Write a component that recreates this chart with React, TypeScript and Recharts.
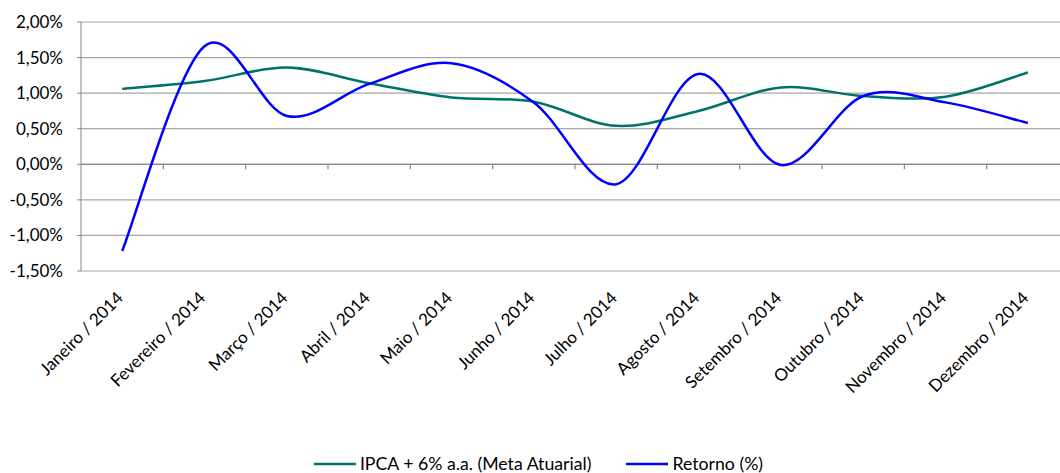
import { LineChart, Line, XAxis, YAxis, CartesianGrid, Legend, ReferenceLine } from 'recharts';

const MONTHS = [
  'Janeiro / 2014', 'Fevereiro / 2014', 'Março / 2014', 'Abril / 2014', 'Maio / 2014', 'Junho / 2014',
  'Julho / 2014', 'Agosto / 2014', 'Setembro / 2014', 'Outubro / 2014', 'Novembro / 2014', 'Dezembro / 2014',
];
const IPCA_META = [1.06, 1.17, 1.36, 1.14, 0.94, 0.88, 0.54, 0.75, 1.08, 0.96, 0.95, 1.29];
const RETORNO = [-1.22, 1.66, 0.68, 1.13, 1.42, 0.87, -0.28, 1.27, -0.01, 0.96, 0.87, 0.58];
const Y_TICKS = [-1.5, -1, -0.5, 0, 0.5, 1, 1.5, 2];

const SERIES = [
  { key: 'ipca', name: 'IPCA + 6% a.a. (Meta Atuarial)', color: '#00716B' },
  { key: 'retorno', name: 'Retorno (%)', color: '#0000FF' },
];

const FONT = 'Lato, "Noto Sans", sans-serif';

// categories sit at i + 0.5 so the small ticks on the zero line fall between them
const data = MONTHS.map((m, i) => ({ x: i + 0.5, month: m, ipca: IPCA_META[i], retorno: RETORNO[i] }));
const X_TICKS = data.map(d => d.x);
const BOUNDARIES = MONTHS.slice(1).map((_, i) => i + 1);

// excel-like smoothed line (catmull-rom through every point)
function excelSmooth(context: any) {
  let pts: number[][] = [];
  return {
    areaStart() {},
    areaEnd() {},
    lineStart() { pts = []; },
    point(x: number, y: number) { pts.push([+x, +y]); },
    lineEnd() {
      if (!pts.length) return;
      context.moveTo(pts[0][0], pts[0][1]);
      for (let i = 0; i < pts.length - 1; i++) {
        const p0 = pts[i - 1] || pts[i];
        const p1 = pts[i];
        const p2 = pts[i + 1];
        const p3 = pts[i + 2] || p2;
        context.bezierCurveTo(
          p1[0] + (p2[0] - p0[0]) / 6, p1[1] + (p2[1] - p0[1]) / 6,
          p2[0] - (p3[0] - p1[0]) / 6, p2[1] - (p3[1] - p1[1]) / 6,
          p2[0], p2[1],
        );
      }
    },
  };
}

const fmtPct = (v: number) => v.toFixed(2).replace('.', ',') + '%';

function MonthTick({ x, y, payload }: any) {
  const label = MONTHS[Math.floor(payload.value)];
  const ax = x + 2;
  const ay = y + 28;
  return (
    <text x={ax} y={ay} transform={`rotate(-45 ${ax} ${ay})`} textAnchor="end"
      fontFamily={FONT} fontSize={17} fill="#000">
      {label}
    </text>
  );
}

function LegendBox() {
  return (
    <div style={{ display: 'flex', justifyContent: 'center', alignItems: 'center', gap: 35, paddingLeft: 8, height: 16, fontFamily: FONT, fontSize: 17.7, lineHeight: '16px', color: '#000' }}>
      {SERIES.map(s => (
        <div key={s.key} style={{ display: 'flex', alignItems: 'center', gap: 4 }}>
          <svg width={42} height={6}><line x1={0} y1={3} x2={42} y2={3} stroke={s.color} strokeWidth={2.5} /></svg>
          <span>{s.name}</span>
        </div>
      ))}
    </div>
  );
}

export default function App() {
  return (
    <div style={{ position: 'absolute', left: 0, top: 0, width: 1060, height: 473, overflow: 'hidden', background: '#fff' }}>
      <LineChart width={1075} height={473} data={data} margin={{ top: 22, right: 6, bottom: 0, left: 0 }}>
        <CartesianGrid vertical={false} stroke="#A6A6A6" strokeWidth={1.2} />
        <XAxis
          type="number"
          dataKey="x"
          domain={[0, 12]}
          ticks={X_TICKS}
          interval={0}
          axisLine={false}
          tickLine={false}
          tickSize={0}
          tickMargin={0}
          height={172}
          tick={<MonthTick />}
        />
        <YAxis
          domain={[-1.5, 2]}
          ticks={Y_TICKS}
          interval={0}
          width={81}
          tickFormatter={fmtPct}
          axisLine={{ stroke: '#868686' }}
          tickLine={{ stroke: '#868686' }}
          tickSize={4}
          tickMargin={14}
          tick={{ fontFamily: FONT, fontSize: 17, fill: '#000' }}
        />
        <ReferenceLine y={0} stroke="#868686" strokeWidth={1.2} />
        {BOUNDARIES.map(b => (
          <ReferenceLine key={b} segment={[{ x: b, y: 0 }, { x: b, y: -0.07 }]} stroke="#868686" strokeWidth={1.2} />
        ))}
        <Legend
          verticalAlign="bottom"
          height={30}
          content={<LegendBox />}
          wrapperStyle={{ top: 456 }}
        />
        {SERIES.map(s => (
          <Line
            key={s.key}
            dataKey={s.key}
            name={s.name}
            type={excelSmooth as any}
            stroke={s.color}
            strokeWidth={2.5}
            dot={false}
            isAnimationActive={false}
          />
        ))}
      </LineChart>
    </div>
  );
}
